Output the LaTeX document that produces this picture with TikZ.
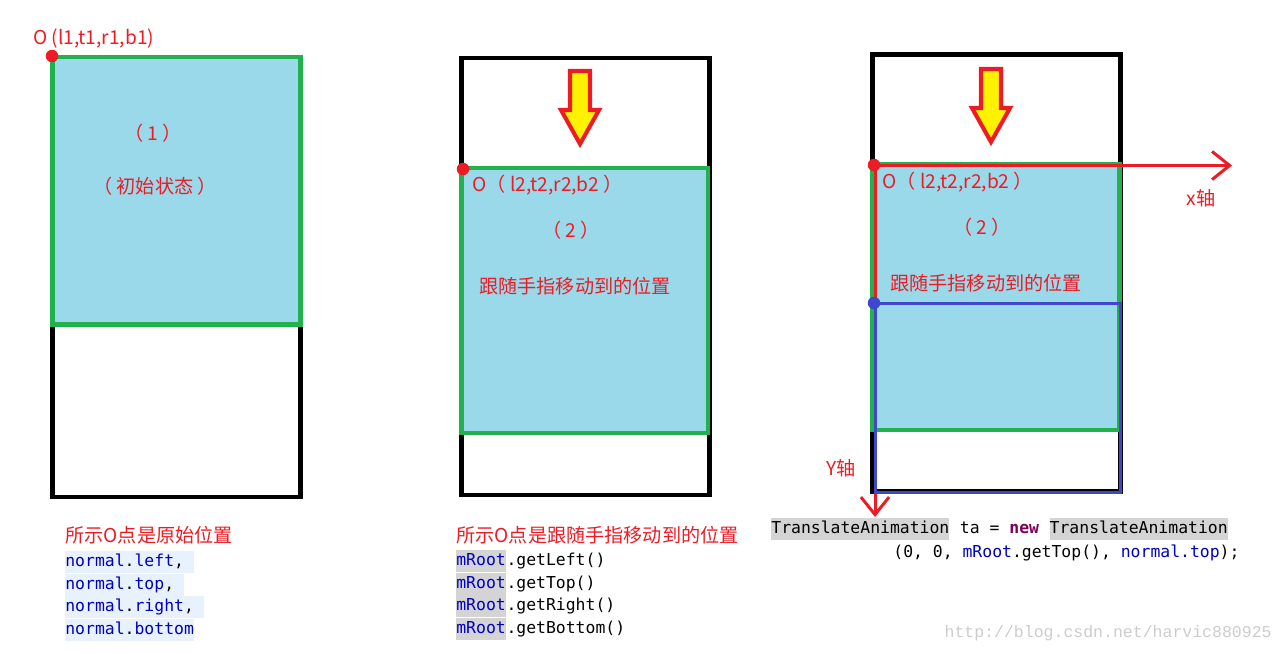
\documentclass[tikz,border=0pt]{standalone}
\usepackage{fontspec}
\usepackage{xcolor}
\usetikzlibrary{positioning, arrows.meta}
\newfontfamily\cjk{Noto Sans CJK SC}
\newfontfamily\codemono{DejaVu Sans Mono}
\newfontfamily\webmono{Liberation Mono}
\definecolor{pRed}{HTML}{ED1C24}
\definecolor{pGreen}{HTML}{22B14C}
\definecolor{pSky}{HTML}{99D9EA}
\definecolor{pBlue}{HTML}{3F48CC}
\definecolor{pYellow}{HTML}{FFF200}
\definecolor{hlBlue}{HTML}{E8F2FE}
\definecolor{hlGray}{HTML}{D4D4D4}
\definecolor{kwBlue}{HTML}{0000C0}
\definecolor{kwPurple}{HTML}{7F0055}
\begin{document}
\begin{tikzpicture}[x=0.02cm, y=-0.02cm,
    frame/.style={draw=black, line width=2.8pt},
    view/.style={draw=pGreen, fill=pSky, line width=2.8pt},
    lbl/.style={font=\cjk\fontsize{10.9}{12}\selectfont, text=pRed, inner sep=0pt},
    code/.style={font=\codemono\fontsize{9.35}{12}\selectfont, inner xsep=0pt, inner ysep=0.6pt, text height=8.2pt, text depth=3.1pt},
    fingerArrow/.style={draw=pRed, fill=pYellow, line width=2.3pt},
    axis/.style={draw=pRed, line width=1.7pt, -{Straight Barb[length=10pt, width=16pt, line width=1.7pt]}},
    dot/.style={circle, inner sep=0pt, minimum size=0.25cm}]
    \useasboundingbox (0,0) rectangle (1288,653);

    % (1) 初始状态
    \draw[frame] (52.5,57) rectangle (300.5,497);
    \draw[view] (52.5,57) rectangle (300.5,324.5);
    % (2) 跟随手指
    \draw[frame] (461.5,58) rectangle (709.5,495);
    \draw[view] (461.5,168) rectangle (708,433);
    % (3) 回到原位
    \draw[frame] (872.5,54.5) rectangle (1120.5,491.5);
    \draw[view] (872.5,164.5) rectangle (1119.5,430);

    \coordinate (O3) at (875,165.5);
    \coordinate (xEnd) at (1232,165.5);
    \coordinate (yEnd) at (875,517);
    \draw[axis] (O3) -- (xEnd);%x轴
    \draw[axis] (O3) -- (yEnd);%y轴
    \draw[pBlue, line width=1.7pt] (875,303) rectangle (1120.5,492);

    \node[dot, fill=pRed] (O1) at (52,56) {};
    \node[dot, fill=pRed] (O2) at (463,169) {};
    \node[dot, fill=pRed] (O3dot) at (874,165) {};
    \node[dot, fill=pBlue] (N3dot) at (874,303) {};

    \foreach \cx/\ty in {580/71, 991/69}
      \draw[fingerArrow] (\cx-10,\ty) -- (\cx+10,\ty) -- (\cx+10,\ty+39) -- (\cx+19,\ty+39)
        -- (\cx,\ty+73) -- (\cx-19,\ty+39) -- (\cx-10,\ty+39) -- cycle;

    \node[lbl, anchor=west] (lblO1) at (33,39) {O (l1,t1,r1,b1)};
    \node[lbl] (num1) at (153,133) {（ 1 ）};
    \node[lbl] (init) at (155,186) {（ 初始状态 ）};
    \node[lbl, anchor=west] (lblO2) at (472,185) {O（ l2,t2,r2,b2 ）};
    \node[lbl] (num2) at (571,230) {（ 2 ）};
    \node[lbl, anchor=west] (move2) at (479,286) {跟随手指移动到的位置};
    \node[lbl, anchor=west] (lblO3) at (882,182) {O（ l2,t2,r2,b2 ）};
    \node[lbl] (num3) at (982,227) {（ 2 ）};
    \node[lbl, anchor=west] (move3) at (890,283) {跟随手指移动到的位置};
    \node[lbl] (xLbl) at (1201,198) {x轴};
    \node[lbl] (yLbl) at (841,468) {Y轴};

    % 代码
    \node[lbl, anchor=west] (cap1) at (65,535) {所示O点是原始位置};
    \node[code, fill=hlBlue, anchor=west, text=kwBlue] (n1) at (65,562) {normal\textcolor{black}{.}left\textcolor{black}{,}\hphantom{x}};
    \node[code, fill=hlBlue, text=kwBlue, below right=0pt and 0pt of n1.south west] (n2) {normal\textcolor{black}{.}top\textcolor{black}{,}\hphantom{x}};
    \node[code, fill=hlBlue, text=kwBlue, below right=0pt and 0pt of n2.south west] (n3) {normal\textcolor{black}{.}right\textcolor{black}{,}\hphantom{x}};
    \node[code, fill=hlBlue, text=kwBlue, below right=0pt and 0pt of n3.south west] (n4) {normal\textcolor{black}{.}bottom};

    \node[lbl, anchor=west] (cap2) at (456,535) {所示O点是跟随手指移动到的位置};
    \node[code, fill=hlGray, anchor=west, text=kwBlue] (r1) at (456,561) {mRoot};
    \node[code, right=0pt of r1] {.getLeft()};
    \node[code, fill=hlGray, text=kwBlue, below right=0pt and 0pt of r1.south west] (r2) {mRoot};
    \node[code, right=0pt of r2] {.getTop()};
    \node[code, fill=hlGray, text=kwBlue, below right=0pt and 0pt of r2.south west] (r3) {mRoot};
    \node[code, right=0pt of r3] {.getRight()};
    \node[code, fill=hlGray, text=kwBlue, below right=0pt and 0pt of r3.south west] (r4) {mRoot};
    \node[code, right=0pt of r4] {.getBottom()};

    \node[code, fill=hlGray, anchor=west] (ta1) at (771,529) {TranslateAnimation};
    \node[code, right=0pt of ta1] (taEq) {\hphantom{x}ta = \textcolor{kwPurple}{\textbf{new}}\hphantom{x}};
    \node[code, fill=hlGray, right=0pt of taEq] (ta2) {TranslateAnimation};
    \node[code, anchor=west] (taArgs) at (893,553) {(0, 0, \textcolor{kwBlue}{mRoot}.getTop(), \textcolor{kwBlue}{normal.top});};

    \node[font=\webmono\fontsize{9.4}{11}\selectfont, text=black!20, anchor=east, inner sep=0pt] (mark) at (1272,633) {http://blog.csdn.net/harvic880925};
\end{tikzpicture}
\end{document}
